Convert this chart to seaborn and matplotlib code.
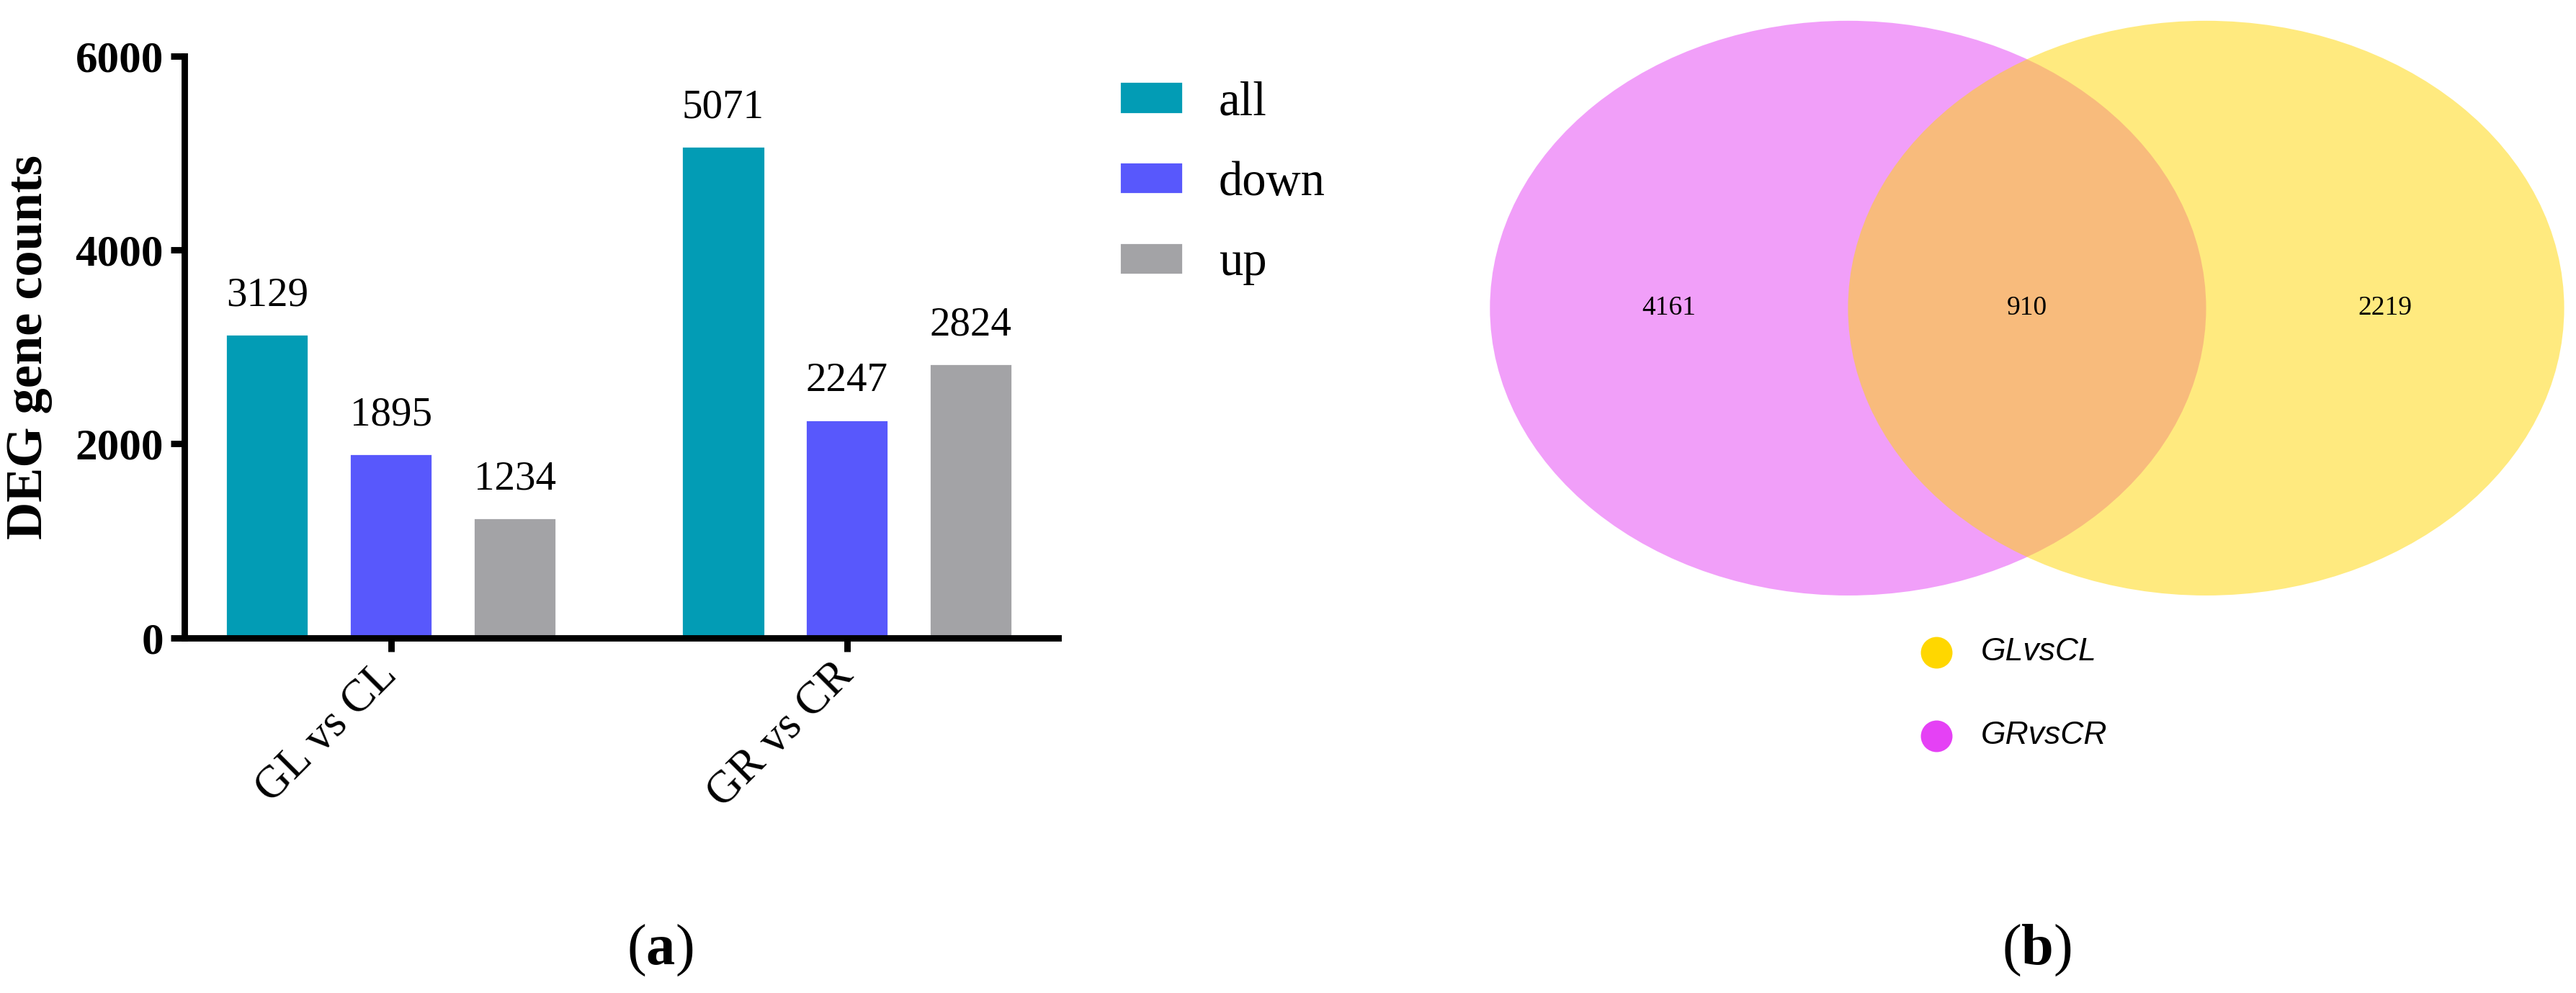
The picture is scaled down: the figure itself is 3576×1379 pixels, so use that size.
import matplotlib
matplotlib.use("Agg")
import matplotlib.pyplot as plt
import seaborn as sns
import pandas as pd
from matplotlib.patches import Ellipse

# bar chart data
groups = ["GL vs CL", "GR vs CR"]
kinds = ["all", "down", "up"]
all_counts = [3129, 5071]
down_counts = [1895, 2247]
up_counts = [1234, 2824]
bar_colors = ["#029CB5", "#5858FC", "#A3A3A6"]

# venn data
venn_sets = ["GLvsCL", "GRvsCR"]
venn_only_gr = 4161
venn_both = 910
venn_only_gl = 2219
venn_colors = ["#FFD700", "#E541F5"]

sns.set_style("ticks")
plt.rcParams["font.family"] = ["Liberation Serif", "DejaVu Serif"]
plt.rcParams["mathtext.fontset"] = "custom"
plt.rcParams["mathtext.rm"] = "Liberation Serif"
plt.rcParams["mathtext.bf"] = "Liberation Serif:bold"
for k in ["text.color", "axes.edgecolor", "axes.labelcolor", "xtick.color", "ytick.color"]:
    plt.rcParams[k] = "black"

rows = []
for i, g in enumerate(groups):
    rows.append((g, "all", all_counts[i]))
    rows.append((g, "down", down_counts[i]))
    rows.append((g, "up", up_counts[i]))
df = pd.DataFrame(rows, columns=["group", "kind", "count"])

W, H = 3576, 1379
fig = plt.figure(figsize=(W / 200, H / 200), dpi=200)

# (a) bar chart
ax = fig.add_axes([256 / W, 1 - 885.5 / H, 1213 / W, 807.5 / H])
sns.barplot(data=df, x="group", y="count", hue="kind", hue_order=kinds,
            palette=bar_colors, saturation=1, width=0.815, gap=0.33, ax=ax)
for c in ax.containers:
    ax.bar_label(c, fmt="%d", padding=10, fontsize=20.5)
ax.set_xlim(-0.453, 1.463)
ax.set_ylim(0, 6000)
ax.set_yticks([0, 2000, 4000, 6000])
sns.despine(ax=ax)
for s in ["left", "bottom"]:
    ax.spines[s].set_linewidth(3.2)
ax.tick_params(axis="both", width=3.2, length=6.8, direction="out")
ax.tick_params(axis="y", pad=3.6, labelsize=22)
ax.tick_params(axis="x", pad=9, labelsize=22.7)
for t in ax.get_yticklabels():
    t.set_fontweight("bold")
for t in ax.get_xticklabels():
    t.set_rotation(45)
    t.set_ha("right")
    t.set_va("center")
    t.set_rotation_mode("anchor")
ax.set_xlabel("")
ax.set_ylabel("DEG gene counts", fontsize=26, fontweight="bold", va="center")
ax.yaxis.set_label_coords(-0.178, 0.5)
ax.legend(loc="upper left", bbox_to_anchor=(1554 / W, 1 - 112 / H),
          bbox_transform=fig.transFigure, frameon=False, fontsize=24,
          handlelength=1.32, handleheight=0.645, handletextpad=0.75,
          labelspacing=0.76, borderpad=0, borderaxespad=0)

# (b) venn diagram
vx = fig.add_axes([1950 / W, 1 - 1150 / H, 1626 / W, 1150 / H])
vx.set_xlim(-1.738, 1.533)
vx.set_ylim(-1.453, 0.861)
vx.axis("off")
vx.add_patch(Ellipse((-0.5, 0), 2, 1.606, facecolor=venn_colors[1], alpha=0.5, lw=0))
vx.add_patch(Ellipse((0.5, 0), 2, 1.606, facecolor=venn_colors[0], alpha=0.5, lw=0))
for x, v in zip([-1.0, 0.0, 1.0], [venn_only_gr, venn_both, venn_only_gl]):
    vx.text(x, 0, str(v), ha="center", va="center", fontsize=13.5)
for y, name, col in zip([-0.962, -1.195], venn_sets, venn_colors):
    vx.scatter([-0.2535], [y], s=250, color=col, linewidths=0)
    vx.text(-0.129, y, name, ha="left", va="center", fontsize=16,
            style="italic", family=["Liberation Sans", "DejaVu Sans"])

fig.text(916 / W, 1 - 1320 / H, r"($\mathbf{a}$)", ha="center", va="center", fontsize=29)
fig.text(2827 / W, 1 - 1320 / H, r"($\mathbf{b}$)", ha="center", va="center", fontsize=29)

fig.savefig("out.png", dpi=200, facecolor="white")
